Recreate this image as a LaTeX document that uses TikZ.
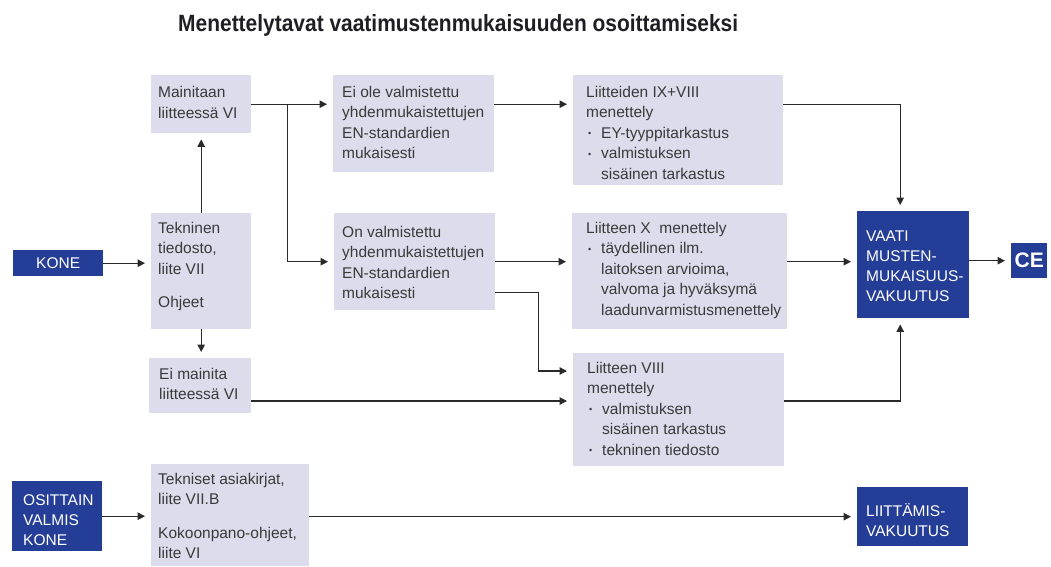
\documentclass[tikz,border=0pt]{standalone}
\usepackage{fontspec}
\usepackage{graphicx}
\setmainfont{Liberation Sans}
\usetikzlibrary{arrows.meta,calc}
\definecolor{lboxc}{HTML}{DCDCEC}
\definecolor{dboxc}{HTML}{243D96}
\definecolor{txtc}{HTML}{3A3A3A}
\definecolor{lnc}{HTML}{2A2A2A}
\definecolor{titlec}{HTML}{1E1E24}
\newcommand\bl{\makebox[15pt][l]{\hspace{2pt}\raisebox{1.5pt}{\fontsize{9}{9}\selectfont •}}}
\newcommand\ind{\makebox[15pt]{}}
\begin{document}
\begin{tikzpicture}[x=1pt,y=-1pt,
  light/.style={fill=lboxc, draw=none, anchor=north west, inner sep=0pt},
  dark/.style={fill=dboxc, draw=none, anchor=north west, inner sep=0pt},
  ltext/.style={anchor=north west, inner sep=0pt, align=left, text=txtc, font=\fontsize{15.5}{20.5}\selectfont},
  dtext/.style={anchor=north west, inner sep=0pt, align=left, text=white, font=\fontsize{15.5}{20}\selectfont},
  conn/.style={draw=lnc, line width=1.2pt, -{Triangle[length=7.5pt,width=7.5pt]}, shorten >=6pt}]
\path[use as bounding box] (0,0) rectangle (1051,566);

% title
\node[anchor=base west, inner sep=0pt, text=titlec] (title) at (178,31)
  {\resizebox{560pt}{\height}{\fontsize{23.5}{24}\selectfont\bfseries Menettelytavat vaatimustenmukaisuuden osoittamiseksi}};

% boxes
\node[dark, minimum width=90pt, minimum height=26pt] (kone) at (13,250) {};
\node[dark, minimum width=90pt, minimum height=70pt] (osit) at (12,481) {};
\node[light, minimum width=100pt, minimum height=58pt] (mai) at (151,75) {};
\node[light, minimum width=100pt, minimum height=116pt] (tek) at (151,213) {};
\node[light, minimum width=102pt, minimum height=55pt] (eim) at (149,358) {};
\node[light, minimum width=158pt, minimum height=102pt] (tek2) at (151,464) {};
\node[light, minimum width=161pt, minimum height=97pt] (eiole) at (333,75) {};
\node[light, minimum width=161pt, minimum height=97pt] (onv) at (334,213) {};
\node[light, minimum width=210pt, minimum height=110pt] (liit) at (573,75) {};
\node[light, minimum width=215pt, minimum height=116pt] (lx) at (572,213) {};
\node[light, minimum width=211pt, minimum height=113pt] (l8) at (573,353) {};
\node[dark, minimum width=112pt, minimum height=107pt] (vaati) at (857,211) {};
\node[dark, minimum width=111pt, minimum height=59pt] (liitv) at (857,487) {};
\node[dark, minimum width=36pt, minimum height=35pt] (ce) at (1011,243) {};

% texts
\node[text=white, inner sep=0pt, font=\fontsize{15.5}{20}\selectfont] (konet) at (kone.center) {KONE};
\node[dtext] (ositt) at (23,491) {\strut OSITTAIN\\VALMIS\\KONE};
\node[ltext] (mait) at (158,83) {\strut Mainitaan\\liitteessä VI};
\node[ltext] (tekt) at (158,218.6) {\strut Tekninen\\tiedosto,\\liite VII\\[12.5pt]Ohjeet};
\node[ltext] (eimt) at (159,364.6) {\strut Ei mainita\\liitteessä VI};
\node[ltext] (tek2t) at (158,469.6) {\strut Tekniset asiakirjat,\\liite VII.B\\[13pt]Kokoonpano-ohjeet,\\liite VI};
\node[ltext] (eiolet) at (342,82.6) {\strut Ei ole valmistettu\\yhdenmukaistettujen\\EN-standardien\\mukaisesti};
\node[ltext] (onvt) at (342,222.6) {\strut On valmistettu\\yhdenmukaistettujen\\EN-standardien\\mukaisesti};
\node[ltext] (liitt) at (586,82.6) {\strut Liitteiden IX+VIII\\menettely\\\bl EY-tyyppitarkastus\\\bl valmistuksen\\\ind sisäinen tarkastus};
\node[ltext] (lxt) at (586,218.6) {\strut Liitteen X\ \ menettely\\\bl täydellinen ilm.\\\ind laitoksen arvioima,\\\ind valvoma ja hyväksymä\\\ind laadunvarmistusmenettely};
\node[ltext] (l8t) at (587,358.6) {\strut Liitteen VIII\\menettely\\\bl valmistuksen\\\ind sisäinen tarkastus\\\bl tekninen tiedosto};
\node[dtext] (vaatit) at (866,227) {\strut VAATI\\MUSTEN-\\MUKAISUUS-\\VAKUUTUS};
\node[dtext] (liitvt) at (866,502) {\strut LIITTÄMIS-\\VAKUUTUS};
\node[text=white, inner sep=0pt, font=\fontsize{21}{21}\selectfont\bfseries] (cet) at (ce.center) {CE};

% connectors
\draw[conn] (kone.east) -- (kone.east -| tek.west);
\draw[conn] (tek.north) -- (mai.south);
\draw[conn] (tek.south) -- (eim.north -| tek.south);
\draw[conn] (mai.east) -- (mai.east -| eiole.west);
\coordinate (j1) at ($(mai.east)+(36,0)$);
\draw[conn] (j1) |- (onv.west);
\draw[conn] (eiole.east |- mai.east) -- (liit.west |- mai.east);
\coordinate (vt) at ($(vaati.north)+(-13,0)$);
\draw[conn] (liit.east |- mai.east) -| (vt);
\draw[conn] (onv.east) -- (onv.east -| lx.west);
\draw[conn] (lx.east |- onv.east) -- (vaati.west |- onv.east);
\draw[conn] (vaati.east |- ce.west) -- (ce.west);
\coordinate (o2) at ($(onv.south east)+(0,-18)$);
\coordinate (l8a) at ($(l8.north west)+(0,18)$);
\draw[conn] (o2) -- ++(43,0) |- (l8a);
\coordinate (l8b) at ($(l8.north west)+(0,48)$);
\draw[conn] (eim.east |- l8b) -- (l8b);
\coordinate (vb) at ($(vaati.south)+(-13,0)$);
\draw[conn] (l8.east |- l8b) -| (vb);
\draw[conn] (osit.east) -- (osit.east -| tek2.west);
\draw[conn] (tek2.east |- liitv.west) -- (liitv.west);
\end{tikzpicture}
\end{document}
